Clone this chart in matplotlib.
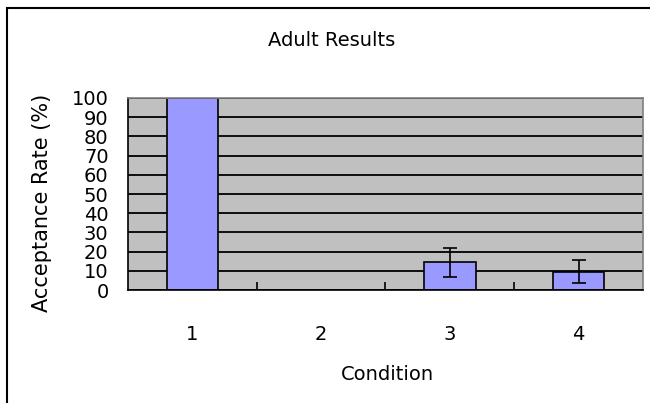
import numpy as np
import matplotlib.pyplot as plt
from matplotlib.patches import Rectangle

# Data
conditions = ['1', '2', '3', '4']
acceptance = [100, 0, 14.5, 9.5]
errors = [0, 0, 7.5, 6]

fig = plt.figure(figsize=(6.5, 4.03), dpi=100)
ax = fig.add_axes([0.197, 0.280, 0.792, 0.477])

x = np.arange(len(conditions))
ax.set_facecolor('#c0c0c0')
ax.set_axisbelow(True)
ax.yaxis.grid(True, color='black', linewidth=1.3)

err = [e if e > 0 else np.nan for e in errors]
ax.bar(x, acceptance, width=0.4, color='#9999ff', edgecolor='black', linewidth=1.2,
       yerr=err, capsize=5, error_kw=dict(elinewidth=1.2, capthick=1.2, ecolor='black'))

ax.set_xlim(-0.5, len(conditions) - 0.5)
ax.set_ylim(0, 100)
ax.set_yticks(np.arange(0, 101, 10))
ax.set_xticks(x)
ax.set_xticklabels(conditions, fontsize=14)
ax.tick_params(axis='x', length=0, pad=25)
ax.tick_params(axis='y', length=0, labelsize=14, pad=14)
ax.set_xticks(x[:-1] + 0.5, minor=True)
ax.tick_params(axis='x', which='minor', direction='in', length=6, width=1.2)

for s in ax.spines.values():
    s.set_linewidth(1.2)
ax.spines['right'].set_color('#808080')
ax.spines['top'].set_color('#808080')

fig.text(332 / 650, 1 - 40 / 403, 'Adult Results', fontsize=14, ha='center', va='center')
fig.text(387 / 650, 1 - 374 / 403, 'Condition', fontsize=14, ha='center', va='center')
fig.text(42 / 650, 1 - 203 / 403, 'Acceptance Rate (%)', fontsize=15, rotation=90,
         ha='center', va='center')

# chart frame
fig.patches.append(Rectangle((7 / 650, -0.1), 1.1, 1.1 - 8 / 403, transform=fig.transFigure,
                             fill=False, edgecolor='black', linewidth=1.5))

fig.savefig('out.png', dpi=100)
